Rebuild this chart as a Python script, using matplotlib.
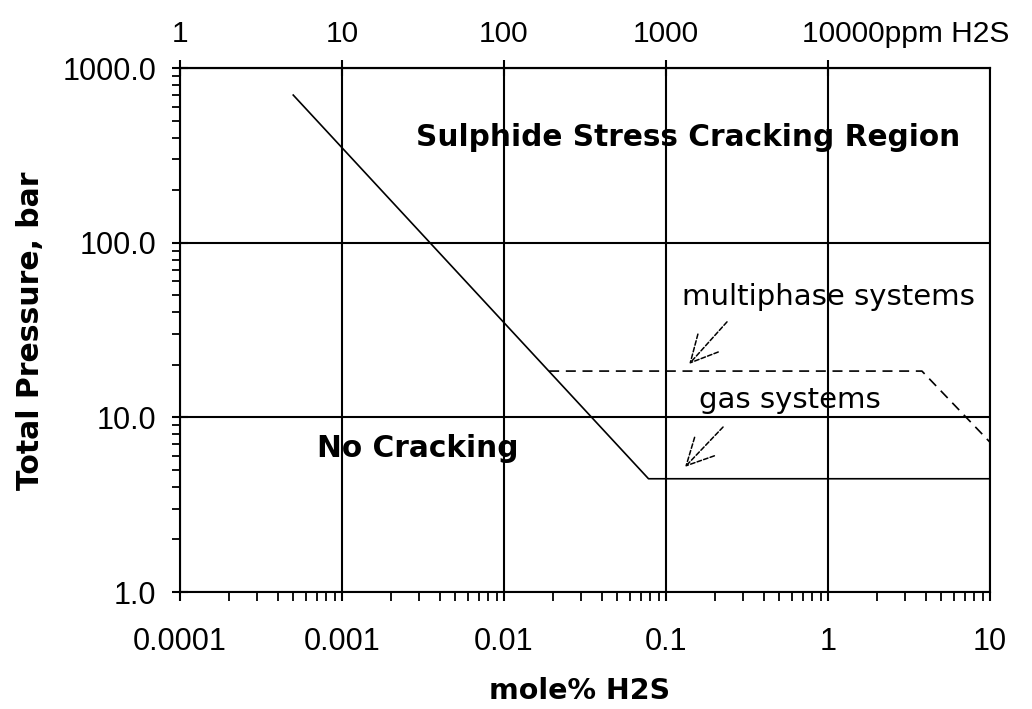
# coding: utf-8
import numpy as np
import matplotlib
matplotlib.use('Agg')
import matplotlib.pyplot as plt
from matplotlib.ticker import NullLocator, FixedLocator, LogLocator
from matplotlib.transforms import ScaledTranslation

# Limite de cracking (gas) y sistemas multifase
mole_gas = [0.0005, 0.078, 10.0]
p_gas = [700.0, 4.45, 4.45]
mole_multi = [0.019, 3.8, 10.0]
p_multi = [18.4, 18.4, 7.2]

xticks = [0.0001, 0.001, 0.01, 0.1, 1, 10]
xticklabels = ['0.0001', '0.001', '0.01', '0.1', '1', '10']
yticks = [1, 10, 100, 1000]
yticklabels = ['1.0', '10.0', '100.0', '1000.0']
ppm_ticks = [1, 10, 100, 1000, 10000]
ppm_labels = ['1', '10', '100', '1000', '10000ppm H2S']

tick_font = 'Liberation Sans'
text_font = 'DejaVu Sans'

fig = plt.figure(figsize=(10.32, 7.09), dpi=100)
ax = fig.add_axes([180/1032, 1-592/709, 810/1032, 524/709])

ax.plot(mole_gas, p_gas, color='k', lw=1.2)
ax.plot(mole_multi, p_multi, color='k', lw=1.2, ls=(0, (6, 4)))

ax.set_xscale('log')
ax.set_yscale('log')
ax.set_xlim(0.0001, 10)
ax.set_ylim(1, 1000)

ax.set_xticks(xticks)
ax.set_xticklabels(xticklabels, fontsize=22, family=tick_font)
ax.set_yticks(yticks)
ax.set_yticklabels(yticklabels, fontsize=22, family=tick_font)
ax.xaxis.set_minor_locator(LogLocator(base=10, subs=np.arange(2, 10), numticks=20))
ax.yaxis.set_minor_locator(LogLocator(base=10, subs=np.arange(2, 10), numticks=20))
ax.xaxis.set_minor_formatter(plt.NullFormatter())
ax.yaxis.set_minor_formatter(plt.NullFormatter())

ax.tick_params(axis='y', which='major', direction='inout', length=11.5, width=1.5, pad=11.5)
ax.tick_params(axis='y', which='minor', direction='out', length=5.8, width=1.3)
ax.tick_params(axis='x', which='major', direction='out', length=6.5, width=1.5, pad=18.5)
ax.tick_params(axis='x', which='minor', direction='out', length=6.5, width=1.3)

ax.grid(True, which='major', color='k', lw=1.5)
for s in ax.spines.values():
    s.set_linewidth(1.5)

# eje superior en ppm
secax = ax.secondary_xaxis('top', functions=(lambda x: x*1e4, lambda x: x/1e4))
secax.xaxis.set_major_locator(FixedLocator(ppm_ticks))
secax.xaxis.set_minor_locator(NullLocator())
secax.set_xticklabels(ppm_labels, fontsize=21.5, family=tick_font)
secax.tick_params(axis='x', direction='inout', length=11.5, width=1.5, pad=9)
secax.spines['top'].set_linewidth(1.5)
lab = secax.get_xticklabels()[-1]
lab.set_horizontalalignment('left')
lab.set_transform(lab.get_transform() + ScaledTranslation(-0.26, 0, fig.dpi_scale_trans))

ax.set_ylabel('Total Pressure, bar', fontsize=21.5, fontweight='bold', family=text_font)
ax.yaxis.set_label_coords(-0.167, 0.498)
fig.text(580/1032, 10/709, 'mole% H2S', fontsize=20.5, fontweight='bold',
         family=text_font, ha='center', va='baseline')

ax.text(0.137, 357, 'Sulphide Stress Cracking Region', fontsize=21.3, fontweight='bold',
        family=text_font, ha='center', va='baseline')
ax.text(0.00292, 5.93, 'No Cracking', fontsize=21.3, fontweight='bold',
        family=text_font, ha='center', va='baseline')
ax.text(1.01, 44, 'multiphase systems', fontsize=21, family=text_font, ha='center', va='baseline')
ax.text(0.582, 11.3, 'gas systems', fontsize=21, family=text_font, ha='center', va='baseline')

arrow = dict(arrowstyle='->,head_length=0.96,head_width=0.49', color='k', lw=1.1,
             ls=(0, (3, 1.5)), mutation_scale=20, shrinkA=0, shrinkB=0)
ax.annotate('', xy=(0.139, 20.2), xytext=(0.238, 35.2), arrowprops=arrow)
ax.annotate('', xy=(0.131, 5.2), xytext=(0.225, 8.8), arrowprops=arrow)

plt.savefig('out.png', dpi=100)
